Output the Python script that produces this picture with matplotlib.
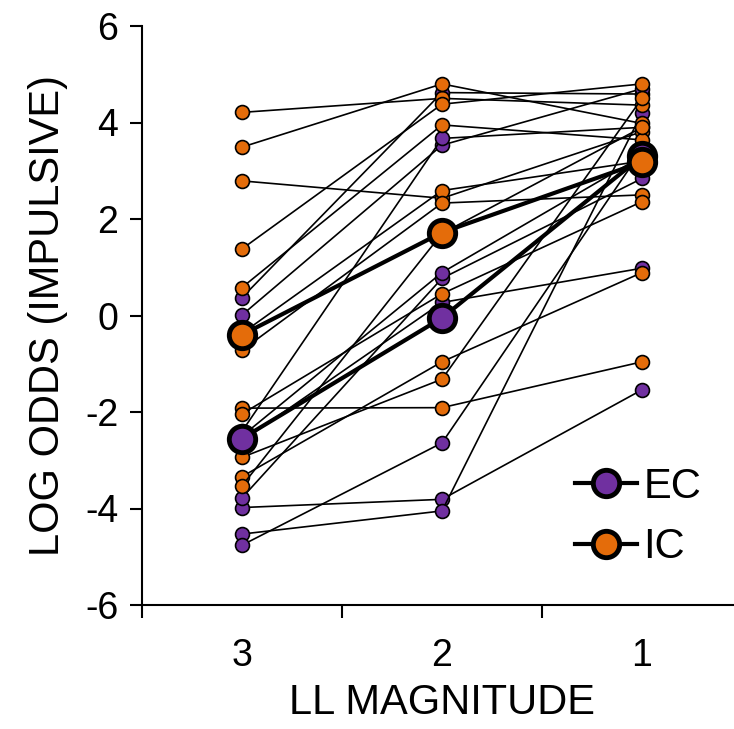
import numpy as np
import matplotlib
matplotlib.use("Agg")
import matplotlib.pyplot as plt
from matplotlib.lines import Line2D

# categories (LL magnitude), left to right
kategoriler = ["3", "2", "1"]

# individual subjects, values at LL magnitude 3, 2, 1
ec_denekler = [
    [-3.98, -3.81, -1.54],
    [-4.53, -4.05, 4.20],
    [-4.76, -2.64, 3.43],
    [-3.78, 0.77, 2.84],
    [0.37, 4.62, 4.59],
    [0.01, 3.53, 4.70],
    [-2.50, 0.89, 3.30],
    [-2.60, 0.27, 0.98],
    [-2.40, 3.67, 3.90],
]
ic_denekler = [
    [4.21, 4.50, 4.36],
    [3.49, 4.80, 3.98],
    [2.79, 2.43, 3.81],
    [1.38, 4.38, 4.80],
    [0.58, 3.95, 3.64],
    [-0.37, 2.59, 3.20],
    [-0.72, 2.33, 2.50],
    [-1.92, -1.91, -0.96],
    [-2.04, 0.45, 2.36],
    [-2.94, -1.32, 4.50],
    [-3.34, -0.96, 0.89],
    [-3.53, 1.70, 3.90],
]

# group means
ec_ortalama = [-2.55, -0.05, 3.30]
ic_ortalama = [-0.40, 1.72, 3.18]

mor = "#7030A0"
turuncu = "#E46C0A"

plt.rcParams["font.family"] = ["Liberation Sans", "DejaVu Sans"]
plt.rcParams["axes.unicode_minus"] = False

fig = plt.figure(figsize=(7.34, 7.29), dpi=100)
ax = fig.add_axes([142 / 734, 124 / 729, 600 / 734, 579 / 729])

x = np.arange(1, len(kategoriler) + 1)

# individual lines
for vals in ec_denekler:
    ax.plot(x, vals, "-o", color="black", lw=1.2, ms=10, mfc=mor, mec="black", mew=1.2, zorder=2)
for vals in ic_denekler:
    ax.plot(x, vals, "-o", color="black", lw=1.2, ms=10, mfc=turuncu, mec="black", mew=1.2, zorder=2)

# group means
ax.plot(x, ec_ortalama, "-o", color="black", lw=3, ms=19, mfc=mor, mec="black", mew=3.5, zorder=4)
ax.plot(x, ic_ortalama, "-o", color="black", lw=3, ms=19, mfc=turuncu, mec="black", mew=3.5, zorder=4)

ax.set_xlim(0.5, 3.5)
ax.set_ylim(-6, 6)
ax.set_yticks(np.arange(-6, 7, 2))
ax.set_xticks(x)
ax.set_xticklabels(kategoriler)
ax.set_xticks([0.5, 1.5, 2.5, 3.5], minor=True)
ax.tick_params(axis="x", which="major", length=0, pad=24, labelsize=27)
ax.tick_params(axis="x", which="minor", length=9, width=1.5, direction="out")
ax.tick_params(axis="y", length=9, width=1.5, direction="out", pad=8, labelsize=27)

for s in ["top", "right"]:
    ax.spines[s].set_visible(False)
for s in ["left", "bottom"]:
    ax.spines[s].set_linewidth(1.5)

ax.set_xlabel("LL MAGNITUDE", fontsize=30, labelpad=6)
ax.set_ylabel("LOG ODDS (IMPULSIVE)", fontsize=30, labelpad=12)

handles = [
    Line2D([0], [0], color="black", lw=3, marker="o", ms=19, mfc=mor, mec="black", mew=3.5),
    Line2D([0], [0], color="black", lw=3, marker="o", ms=19, mfc=turuncu, mec="black", mew=3.5),
]
ax.legend(handles, ["EC", "IC"], loc="lower right", bbox_to_anchor=(0.995, 0.0),
          frameon=False, fontsize=30, handlelength=1.5, handletextpad=0.15, labelspacing=0.5)

fig.savefig("out.png", dpi=100)
